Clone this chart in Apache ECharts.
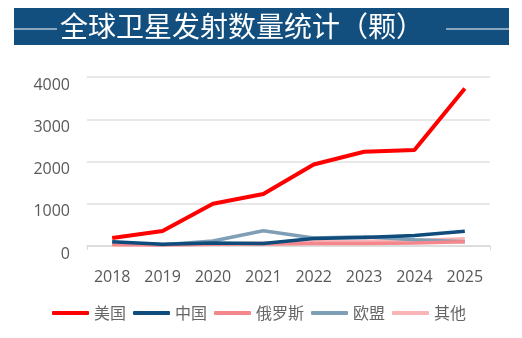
<!DOCTYPE html>
<html><head><meta charset="utf-8">
<script src="https://cdn.jsdelivr.net/npm/echarts@6/dist/echarts.min.js"></script>
<style>html,body{margin:0;padding:0;background:#fff}#c{width:522px;height:338px}</style>
</head><body><div id="c"></div>
<script>
const years = ['2018','2019','2020','2021','2022','2023','2024','2025'];
const usa = [190, 355, 1000, 1230, 1930, 2230, 2270, 3730];
const china = [100, 40, 70, 60, 180, 200, 250, 350];
const russia = [40, 30, 40, 50, 60, 60, 70, 100];
const eu = [80, 30, 120, 360, 190, 220, 150, 100];
const other = [20, 25, 40, 70, 100, 110, 130, 170];
const names = ['美国','中国','俄罗斯','欧盟','其他'];
const colors = ['#ff0000','#0f4c7c','#f4878b','#7f9fb6','#f8b4b6'];
const title = '全球卫星发射数量统计（颗）';

const chart = echarts.init(document.getElementById('c'));
const datasets = [usa, china, russia, eu, other];
const order = [4, 2, 3, 1, 0];
chart.setOption({
  animation: false,
  graphic: [
    {type:'rect', shape:{x:14,y:8,width:495,height:37}, style:{fill:'#134f7e'}},
    {type:'line', shape:{x1:14,y1:29,x2:57,y2:29}, style:{stroke:'#fff',lineWidth:1}},
    {type:'line', shape:{x1:446,y1:29,x2:509,y2:29}, style:{stroke:'#fff',lineWidth:1}},
    {type:'text', left:60, top:12, style:{text:title, fill:'#fff', fontSize:28, fontWeight:'normal', fontFamily:'Noto Sans CJK SC'}}
  ],
  grid: {left:87, right:32, top:77, bottom:92},
  legend: {
    bottom: 12, left: 47, itemWidth: 37, itemHeight: 4, itemGap: 7,
    icon: 'roundRect',
    textStyle: {color:'#666', fontSize:16, fontFamily:'Noto Sans CJK SC'},
    data: names
  },
  xAxis: {
    type:'category', data: years, boundaryGap: true,
    axisLine:{lineStyle:{color:'#d9d9d9', width:1.5}},
    axisTick:{show:true, alignWithLabel:false, interval: 100, length:4, lineStyle:{color:'#d9d9d9'}},
    axisLabel:{color:'#595959', fontSize:16, margin:23, fontFamily:'Open Sans'}
  },
  yAxis: {
    type:'value', min:0, max:4000, interval:1000,
    axisLine:{show:false}, axisTick:{show:false},
    splitLine:{lineStyle:{color:'#e0e0e0', width:1.5}},
    axisLabel:{color:'#595959', fontSize:16, margin:17, verticalAlign:'top', fontFamily:'Open Sans',
      formatter: v => String(v)}
  },
  series: order.map(i => ({
    name: names[i], type:'line', data: datasets[i], symbol:'none',
    lineStyle:{color: colors[i], width: i===0 ? 4 : 3.5},
    itemStyle:{color: colors[i]}, z: 10 - i
  }))
});
</script></body></html>
